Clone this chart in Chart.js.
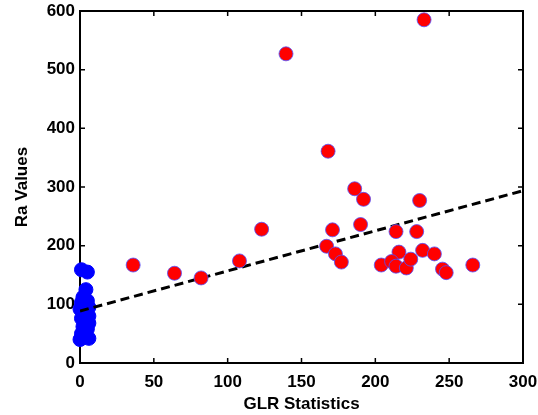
<html>
<head>
  <title>GLR Statistics vs Ra Values</title>
  <script src="https://cdn.jsdelivr.net/npm/chart.js@4.4.1/dist/chart.umd.min.js"></script>
  <style>
    body { margin:0; background:#fff; }
    #wrap { width:538px; height:415px; }
  </style>
</head>
<body>
  <div id="wrap"><canvas id="chart" width="538" height="415"></canvas></div>
  <script>
    // blue group (GLR close to zero)
    var blueX = [1, 5, 4, 2, 5, 1, 3, 6, 0, 4, 2, 6, 1, 4, 6, 2, 5, 1, 3, 6, 0];
    var blueY = [159, 155, 125, 112, 106, 103, 98, 95, 92, 88, 84, 80, 76, 72, 68, 62, 58, 50, 44, 42, 40];

    // red group
    var redX = [36, 64, 82, 108, 123, 139.5, 233, 168, 186, 192, 230, 171, 190, 214, 228, 167, 173, 177, 216, 232, 240, 204, 211, 214, 221, 224, 245.5, 248, 266];
    var redY = [167, 153, 145, 174, 228, 527, 585, 361, 297, 279, 277, 227, 236, 224, 224, 199, 186, 172, 189, 192, 186, 167, 173, 165, 162, 177, 160, 154, 167];

    // fitted line end points
    var fitX = [0, 300];
    var fitY = [88.6, 293.7];

    var xTicks = [0, 50, 100, 150, 200, 250, 300];
    var yTicks = [0, 100, 200, 300, 400, 500, 600];

    function pts(xs, ys) {
      var out = [];
      for (var i = 0; i < xs.length; i++) out.push({x: xs[i], y: ys[i]});
      return out;
    }

    // box around plot with inward ticks on all four sides
    var boxPlugin = {
      id: 'box',
      beforeDatasetsDraw: function(chart) {
        var ctx = chart.ctx, a = chart.chartArea;
        var xs = chart.scales.x, ys = chart.scales.y;
        ctx.save();
        ctx.strokeStyle = '#000';
        ctx.lineWidth = 2;
        ctx.strokeRect(a.left, a.top, a.right - a.left, a.bottom - a.top);
        ctx.lineWidth = 1.5;
        ctx.beginPath();
        xTicks.forEach(function(v) {
          var px = xs.getPixelForValue(v);
          ctx.moveTo(px, a.bottom); ctx.lineTo(px, a.bottom - 5);
          ctx.moveTo(px, a.top); ctx.lineTo(px, a.top + 5);
        });
        yTicks.forEach(function(v) {
          var py = ys.getPixelForValue(v);
          ctx.moveTo(a.left, py); ctx.lineTo(a.left + 5, py);
          ctx.moveTo(a.right, py); ctx.lineTo(a.right - 5, py);
        });
        ctx.stroke();
        ctx.restore();
      }
    };

    var font = {family: '"Liberation Sans", Arial, sans-serif', size: 17, weight: 'bold'};

    new Chart(document.getElementById('chart'), {
      type: 'scatter',
      data: {
        datasets: [
          {
            label: 'red',
            data: pts(redX, redY),
            backgroundColor: '#ff0000',
            borderColor: '#5050ff',
            borderWidth: 0.8,
            pointRadius: 7,
            clip: false,
            order: 0
          },
          {
            label: 'fit',
            type: 'line',
            data: pts(fitX, fitY),
            borderColor: '#000',
            borderWidth: 3,
            borderDash: [9, 5],
            pointRadius: 0,
            fill: false,
            order: 1
          },
          {
            label: 'blue',
            data: pts(blueX, blueY),
            backgroundColor: '#0000ff',
            borderColor: '#0000ff',
            borderWidth: 1,
            pointRadius: 7,
            clip: false,
            order: 2
          }
        ]
      },
      options: {
        responsive: false,
        animation: false,
        layout: { padding: { top: 11, right: 15, left: 0, bottom: 0 } },
        plugins: {
          legend: { display: false },
          tooltip: { enabled: false }
        },
        scales: {
          x: {
            type: 'linear',
            min: 0, max: 300,
            afterBuildTicks: function(s) { s.ticks = xTicks.map(function(v) { return {value: v}; }); },
            afterFit: function(s) { s.height = 52; s.paddingLeft = 0; s.paddingRight = 0; },
            grid: { display: false, drawTicks: false },
            border: { display: false },
            ticks: { color: '#000', font: font, padding: 9, maxRotation: 0 },
            title: { display: true, text: 'GLR Statistics', color: '#000', font: font, padding: 0 }
          },
          y: {
            type: 'linear',
            min: 0, max: 600,
            afterBuildTicks: function(s) { s.ticks = yTicks.map(function(v) { return {value: v}; }); },
            afterFit: function(s) { s.width = 80; s.paddingTop = 0; s.paddingBottom = 0; },
            grid: { display: false, drawTicks: false },
            border: { display: false },
            ticks: { color: '#000', font: font, padding: 5 },
            title: { display: true, text: 'Ra Values', color: '#000', font: font, padding: { top: 12, bottom: 0 } }
          }
        }
      },
      plugins: [boxPlugin]
    });
  </script>
</body>
</html>
